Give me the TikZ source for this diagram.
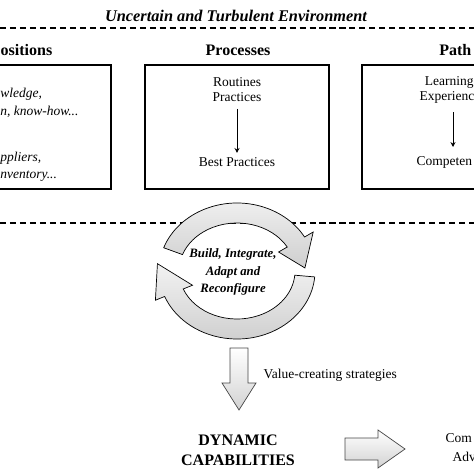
\documentclass[tikz,border=0pt]{standalone}
\usepackage{fontspec}
\setmainfont{Liberation Serif}
\usetikzlibrary{arrows.meta,calc}
\tikzset{
  env/.style={font=\bfseries\itshape\fontsize{11.6}{13}\selectfont, inner sep=1pt},
  hdr/.style={font=\bfseries\fontsize{11.4}{14.2}\selectfont, inner sep=1pt, align=center},
  txt/.style={font=\fontsize{9.6}{11}\selectfont, inner sep=1pt},
  itxt/.style={font=\itshape\fontsize{9.6}{11}\selectfont, inner sep=0pt},
  cyctxt/.style={font=\bfseries\itshape\fontsize{9.1}{12.2}\selectfont, align=center, inner sep=1pt},
  panel/.style={draw, line width=1.1pt, minimum height=3.1cm},
  sep/.style={dash pattern=on 4.3pt off 2.8pt, line width=1.4pt},
  arr/.style={-{Stealth[length=3.5pt, width=3.5pt]}, semithick},
  cyc/.style={draw=black, line width=0.5pt, top color=gray!10, bottom color=gray!38},
  blk/.style={draw=gray!55!black, line width=0.5pt, top color=white, bottom color=gray!35}
}

\begin{document}
\begin{tikzpicture}[x=0.025cm, y=0.025cm]
  \useasboundingbox (0,0) rectangle (474,-474);

  % environment band
  \node[env] (env) at (236,-16) {Uncertain and Turbulent Environment};
  \coordinate (envL) at (0,-28);
  \coordinate (envR) at (474,-28);
  \draw[sep] (envL) -- (envR);

  % three panels
  \node[hdr, anchor=west] (posh) at (-1,-50) {ositions};
  \node[hdr] (proch) at (238,-50) {Processes};
  \node[hdr, anchor=east] (pathh) at (473,-50) {Path};

  \node[panel, minimum width=3.3cm] (pos) at (45,-127) {};
  \node[panel, minimum width=4.6cm] (proc) at (237,-127) {};
  \node[panel, minimum width=3.3cm] (path) at (428,-127) {};

  \node[itxt, anchor=west] (know) at (0,-94) {wledge,};
  \node[itxt, anchor=west] (how) at (0,-112) {n, know-how...};
  \node[itxt, anchor=west] (supp) at (0,-158) {ppliers,};
  \node[itxt, anchor=west] (inv) at (0,-176) {nventory...};

  \node[txt] (rout) at (237,-82) {Routines};
  \node[txt] (prac) at (237,-97) {Practices};
  \node[txt] (best) at (237,-162) {Best Practices};
  \draw[arr, shorten <=4pt, shorten >=2pt] (prac) -- (best);

  \node[txt, anchor=east, inner sep=0pt] (learn) at (474,-82) {Learning};
  \node[txt, anchor=west] (exper) at (418,-97) {Experienc};
  \node[txt, anchor=west] (compet) at (415,-162) {Competen};
  \coordinate (pathTop) at (453,-112);
  \coordinate (pathBot) at (453,-147);
  \draw[arr] (pathTop) -- (pathBot);

  % firm boundary
  \coordinate (firmL) at (0,-223);
  \coordinate (firmR) at (474,-223);
  \draw[sep] (firmL) -- (firmR);

  % renewal cycle
  \coordinate (cyc) at (237,-271);
  \path[cyc] ($(cyc)+(160:78 and 68)$) arc[start angle=160, end angle=30, x radius=78, y radius=68]
    -- ($(cyc)+(30:88 and 78)$) -- ($(cyc)+(3:68 and 58)$) -- ($(cyc)+(30:48 and 38)$)
    -- ($(cyc)+(30:58 and 48)$) arc[start angle=30, end angle=160, x radius=58, y radius=48] -- cycle;
  \path[cyc] ($(cyc)+(-5:78 and 68)$) arc[start angle=-5, end angle=-158, x radius=78, y radius=68]
    -- ($(cyc)+(-158:88 and 78)$) -- ($(cyc)+(174:80 and 70)$) -- ($(cyc)+(-158:48 and 38)$)
    -- ($(cyc)+(-158:58 and 48)$) arc[start angle=-158, end angle=-5, x radius=58, y radius=48] -- cycle;
  \node[cyctxt] (bia) at (233,-272) {Build, Integrate,\\Adapt and\\Reconfigure};

  % strategies to capabilities
  \path[blk] (230,-348) -- (248,-348) -- (248,-383) -- (256,-383) -- (239,-410)
    -- (222,-383) -- (230,-383) -- cycle;
  \node[txt, anchor=west] (vcs) at (262,-375) {Value-creating strategies};
  \node[hdr] (dyn) at (238,-450) {DYNAMIC\\CAPABILITIES};

  \path[blk] (345,-438) -- (378,-438) -- (378,-430) -- (405,-449) -- (378,-468)
    -- (378,-460) -- (345,-460) -- cycle;
  \node[txt, anchor=west] (comp) at (444,-438) {Com};
  \node[txt, anchor=west] (adv) at (451,-457) {Adv};
\end{tikzpicture}
\end{document}
